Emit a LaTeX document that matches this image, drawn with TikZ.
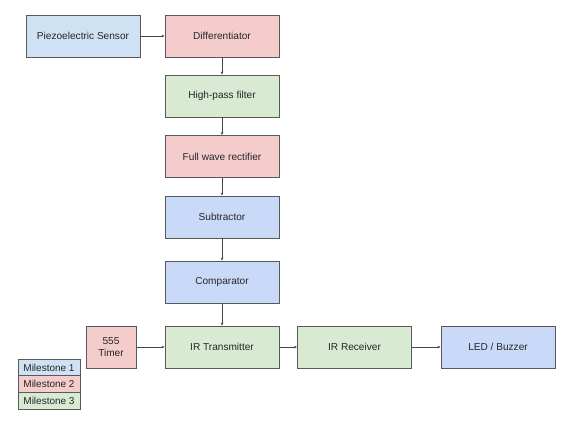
\documentclass[tikz,border=0pt]{standalone}
\usepackage{fontspec}
\setmainfont{Liberation Sans}
\usetikzlibrary{arrows.meta}
\definecolor{bA}{HTML}{CFE2F3}
\definecolor{bB}{HTML}{C9DAF8}
\definecolor{rA}{HTML}{F4CCCC}
\definecolor{gA}{HTML}{D9EAD3}
\definecolor{edge}{HTML}{595959}
\definecolor{ln}{HTML}{434343}
\tikzset{
  blk/.style={draw=edge, line width=0.9pt, minimum width=114pt, minimum height=42pt, inner sep=1pt, font=\fontsize{10.1pt}{12pt}\selectfont, text=black!85, align=center},
  leg/.style={draw=edge, line width=0.9pt, minimum width=62pt, minimum height=16.7pt, inner sep=1pt, font=\fontsize{10pt}{12pt}\selectfont, text=black!85},
  conn/.style={draw=ln, line width=0.65pt, -{Stealth[length=3pt,width=2.6pt]}}
}
\begin{document}
\begin{tikzpicture}[x=1pt,y=-1pt]
\useasboundingbox (0,0) rectangle (568,435);
\node[blk, fill=bA] (piezo) at (83,36) {Piezoelectric Sensor};
\node[blk, fill=rA] (diff) at (222,36) {Differentiator};
\node[blk, fill=gA] (hp) at (222,96) {High-pass filter};
\node[blk, fill=rA] (fw) at (222,156.5) {Full wave rectifier};
\node[blk, fill=bB] (sub) at (222,217) {Subtractor};
\node[blk, fill=bB] (comp) at (222,282) {Comparator};
\node[blk, fill=gA] (irt) at (222,347) {IR Transmitter};
\node[blk, fill=rA, minimum width=50pt] (timer) at (111,347) {555\\Timer};
\node[blk, fill=gA] (irr) at (354.5,347) {IR Receiver};
\node[blk, fill=bB] (led) at (498,347) {LED / Buzzer};
\node[leg, fill=bA] (m1) at (49,367.6) {Milestone 1};
\node[leg, fill=rA] (m2) at (49,384.3) {Milestone 2};
\node[leg, fill=gA] (m3) at (49,401) {Milestone 3};
\draw[conn] (piezo) -- (diff);
\draw[conn] (diff) -- (hp);
\draw[conn] (hp) -- (fw);
\draw[conn] (fw) -- (sub);
\draw[conn] (sub) -- (comp);
\draw[conn] (comp) -- (irt);
\draw[conn] (timer) -- (irt);
\draw[conn] (irt) -- (irr);
\draw[conn] (irr) -- (led);
\end{tikzpicture}
\end{document}
